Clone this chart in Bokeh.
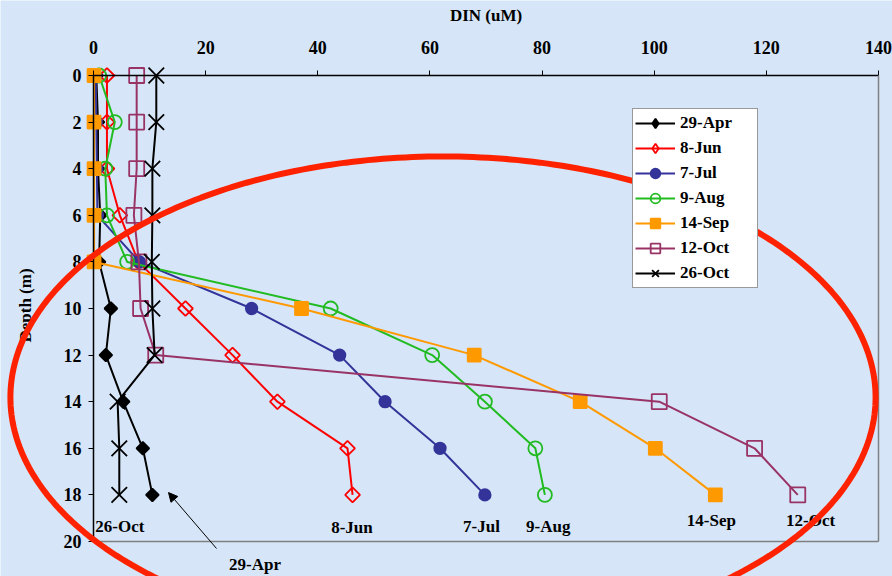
import numpy as np
from bokeh.plotting import figure
from bokeh.models import (Range1d, LinearAxis, FixedTicker, Legend, LegendItem,
                          Label, Arrow, NormalHead, PolyAnnotation)
from bokeh.core.properties import value
from bokeh.embed import file_html
from bokeh.resources import INLINE

# Dissolved inorganic nitrogen profiles by sampling date
depth = [0, 2, 4, 6, 8, 10, 12, 14, 16, 18]
apr29 = [0.5, 0.8, 0.8, 1.2, 1.0, 3.1, 2.2, 5.3, 8.8, 10.5]
jun8 = [2.4, 2.4, 2.4, 4.7, 8.0, 16.4, 24.8, 32.8, 45.3, 46.2]
jul7 = [0.4, 0.5, 0.6, 0.7, 8.2, 28.2, 43.9, 52.0, 61.8, 69.8]
aug9 = [1.0, 3.8, 2.1, 2.4, 6.0, 42.3, 60.4, 69.8, 78.8, 80.5]
sep14 = [0.1, 0.1, 0.1, 0.1, 0.1, 37.1, 67.9, 86.8, 100.2, 110.9]
oct12 = [7.7, 7.7, 7.7, 7.2, 8.1, 8.4, 11.1, 100.9, 117.9, 125.6]
oct26 = [11.2, 11.2, 10.5, 10.5, 10.4, 10.5, 10.9, 4.3, 4.6, 4.6]

dates = ["29-Apr", "8-Jun", "7-Jul", "9-Aug", "14-Sep", "12-Oct", "26-Oct"]
x_ticks = [0, 20, 40, 60, 80, 100, 120, 140]
y_ticks = [0, 2, 4, 6, 8, 10, 12, 14, 16, 18, 20]

# End-of-profile date labels
end_label_text = ["26-Oct", "8-Jun", "7-Jul", "9-Aug", "14-Sep", "12-Oct"]
end_label_x = [4.7, 46.1, 69.2, 81.1, 110.2, 127.9]
end_label_y = [19.36, 19.4, 19.36, 19.36, 19.1, 19.1]

W, H = 892, 576
BG = "#D6E6F8"
FONT = "Liberation Serif"

p = figure(width=W, height=H, output_backend="svg", toolbar_location=None,
           x_range=Range1d(-16.586, 142.497), y_range=Range1d(21.502, -3.219),
           x_axis_location=None, y_axis_location=None)
p.min_border = 0
p.min_border_left = p.min_border_right = p.min_border_top = p.min_border_bottom = 0
p.background_fill_color = BG
p.border_fill_color = BG
p.outline_line_color = None
p.grid.visible = False


def style_axis(ax, size="18px"):
    ax.major_label_text_font = FONT
    ax.major_label_text_font_style = "bold"
    ax.major_label_text_font_size = size
    ax.major_label_text_color = "black"
    ax.minor_tick_line_color = None
    ax.major_tick_in = 0
    ax.major_tick_out = 5
    ax.axis_line_width = 1.5
    ax.major_tick_line_width = 1


xaxis = LinearAxis(fixed_location=0, bounds=(0, 140), ticker=FixedTicker(ticks=x_ticks))
style_axis(xaxis)
xaxis.major_label_standoff = 17
p.add_layout(xaxis, "above")

yaxis = LinearAxis(fixed_location=0, bounds=(0, 20), ticker=FixedTicker(ticks=y_ticks))
style_axis(yaxis)
yaxis.major_label_standoff = 7
p.add_layout(yaxis, "left")

# plot-area frame on the right and bottom
for loc, side, bnds in [(140, "right", (0, 20)), (20, "below", (0, 140))]:
    fr = LinearAxis(fixed_location=loc, bounds=bnds, ticker=FixedTicker(ticks=[]))
    fr.axis_line_color = "#808080"
    fr.axis_line_width = 1.5
    fr.major_tick_line_color = None
    fr.minor_tick_line_color = None
    fr.major_label_text_font_size = "0px"
    p.add_layout(fr, side)

items = []


def series(xs, color, marker, size, fill, label, diamond=False, lw=2):
    fill_color = fill if fill else None
    r1 = p.line(xs, depth, line_color=color, line_width=lw)
    if diamond:
        # square turned 45 degrees gives an even-sided diamond on the plot
        p.scatter(xs, depth, marker="square", size=size, angle=np.pi / 4,
                  line_color=color, line_width=1.8, fill_color=fill_color)
        # hidden diamond marker that only supplies the legend swatch
        r2 = p.scatter(xs, depth, marker="diamond", size=size, visible=False,
                       line_color=color, line_width=1.8, fill_color=fill_color)
    else:
        r2 = p.scatter(xs, depth, marker=marker, size=size,
                       line_color=color, line_width=1.8, fill_color=fill_color)
    items.append(LegendItem(label=label, renderers=[r1, r2]))


series(apr29, "black", None, 9, "black", dates[0], diamond=True)
series(jun8, "#FF0000", None, 10.5, None, dates[1], diamond=True)
series(jul7, "#333399", "circle", 11.5, "#333399", dates[2])
series(aug9, "#22BB22", "circle", 14, None, dates[3])
series(sep14, "#FF9900", "square", 13, "#FF9900", dates[4])
series(oct12, "#993366", "square", 15, None, dates[5])
series(oct26, "black", "x", 22, None, dates[6])

legend = Legend(items=items, location=(632, 288), orientation="vertical")
legend.label_text_font = FONT
legend.label_text_font_style = "bold"
legend.label_text_font_size = "17px"
legend.label_text_color = "black"
legend.glyph_width = 40
legend.glyph_height = 24
legend.label_height = 24
legend.label_width = 75
legend.label_standoff = 5
legend.spacing = 1
legend.padding = 2
legend.margin = 0
legend.border_line_color = "#333333"
legend.border_line_width = 1.2
legend.background_fill_color = "white"
legend.background_fill_alpha = 1.0
p.add_layout(legend)

p.text(x=end_label_x, y=end_label_y, text=end_label_text,
       text_font=value(FONT), text_font_style="bold", text_font_size="17px",
       text_align="center", text_baseline="middle", text_color="black")

p.add_layout(Label(x=28.8, y=20.99, text="29-Apr", text_font=FONT,
                   text_font_style="bold", text_font_size="17px", text_color="black",
                   text_align="center", text_baseline="middle"))
p.add_layout(Arrow(x_start=21.94, y_start=20.30, x_end=13.38, y_end=17.90,
                   line_width=1, line_color="black",
                   end=NormalHead(size=9, fill_color="black", line_color="black")))

# axis titles
p.add_layout(Label(x=70, y=-2.575, text="DIN (uM)", text_font=FONT,
                   text_font_style="bold", text_font_size="17px", text_color="black",
                   text_align="center", text_baseline="middle"))
p.add_layout(Label(x=-12.1, y=9.87, text="Depth (m)", text_font=FONT,
                   text_font_style="bold", text_font_size="17px", text_color="black",
                   angle=np.pi / 2, text_align="center", text_baseline="middle"))

# highlight ring around the deep-water build-up, added last so it sits on top
ring_cx, ring_cy, ring_w, ring_h = 62.33, 13.82, 154.3, 20.69
theta = np.linspace(0, 2 * np.pi, 361)
ring = PolyAnnotation(xs=list(ring_cx + ring_w / 2 * np.cos(theta)),
                      ys=list(ring_cy + ring_h / 2 * np.sin(theta)),
                      fill_alpha=0, line_color="#FF2200", line_alpha=1.0,
                      line_width=6, level="annotation")
p.add_layout(ring)

open("out.html", "w").write(file_html(p, INLINE))
